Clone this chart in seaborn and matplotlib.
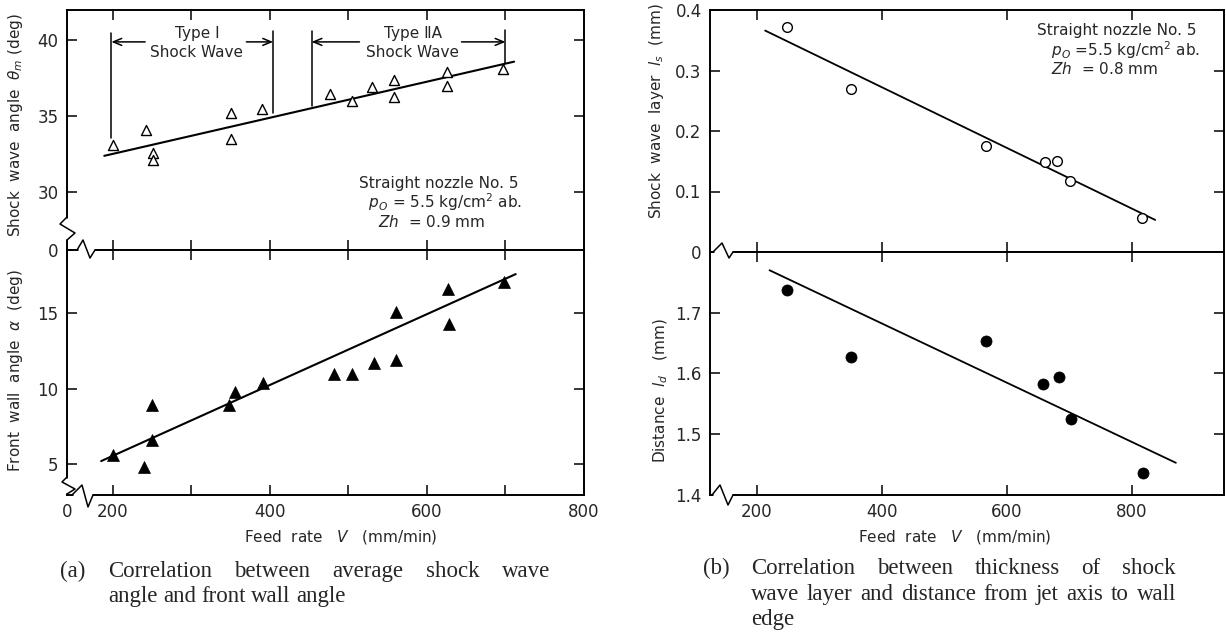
import matplotlib
matplotlib.use('Agg')
import matplotlib.pyplot as plt
import seaborn as sns

# Data
# (a) upper panel: average shock wave angle (open triangles)
theta_v = [200, 242, 251, 251, 350, 350, 390, 476, 505, 530, 558, 558, 625, 625, 697]
theta_deg = [33.1, 34.1, 32.6, 32.1, 35.2, 33.5, 35.5, 36.5, 36.0, 36.9, 37.4, 36.3, 37.9, 37.0, 38.1]
theta_fit_v = [189, 711]
theta_fit = [32.4, 38.6]

# (a) lower panel: front wall angle (filled triangles)
alpha_v = [200, 240, 250, 250, 348, 356, 391, 481, 505, 532, 560, 560, 627, 628, 698]
alpha_deg = [5.6, 4.8, 8.9, 6.6, 8.9, 9.8, 10.4, 11.0, 11.0, 11.7, 15.1, 11.9, 16.6, 14.3, 17.1]
alpha_fit_v = [185, 713]
alpha_fit = [5.2, 17.6]

# (b) upper panel: shock wave layer thickness (open circles)
ls_v = [248, 350, 566, 660, 680, 701, 816]
ls_mm = [0.372, 0.269, 0.175, 0.149, 0.150, 0.117, 0.057]
ls_fit_v = [213, 837]
ls_fit = [0.366, 0.053]

# (b) lower panel: distance jet axis to wall edge (filled circles)
ld_v = [248, 351, 566, 658, 683, 703, 817]
ld_mm = [1.737, 1.627, 1.654, 1.583, 1.594, 1.525, 1.437]
ld_fit_v = [220, 870]
ld_fit = [1.770, 1.453]

# Shock wave type ranges (feed rate)
type1_bounds = [198, 404]
type2_bounds = [453, 700]

sns.set_style("ticks")
plt.rcParams['font.family'] = ['DejaVu Sans']
plt.rcParams['mathtext.fontset'] = 'dejavusans'

W, H = 1226, 632
fig = plt.figure(figsize=(W / 100, H / 100), dpi=100)


def box(l, t, r, b):
    return [l / W, 1 - b / H, (r - l) / W, (b - t) / H]


ax1 = fig.add_axes(box(67, 10, 584, 250))
ax2 = fig.add_axes(box(67, 250, 584, 495))
ax3 = fig.add_axes(box(710, 10, 1224, 252))
ax4 = fig.add_axes(box(710, 252, 1224, 495))


def style(ax):
    for s in ax.spines.values():
        s.set_visible(True)
        s.set_linewidth(1.4)
        s.set_color('black')
    ax.tick_params(which='both', direction='in', length=7, width=1.1,
                   top=True, right=True, labelsize=12, color='black', pad=6)


for ax in (ax1, ax2, ax3, ax4):
    style(ax)

# ---- (a) upper
sns.scatterplot(x=theta_v, y=theta_deg, ax=ax1, marker='^', s=52,
                facecolor='white', edgecolor='black', linewidth=1.0, zorder=3)
sns.lineplot(x=theta_fit_v, y=theta_fit, ax=ax1, color='black', lw=1.5)
ax1.set_xlim(141.5, 800)
ax1.set_ylim(26.2, 42)
ax1.set_xticks(range(200, 800, 100))
ax1.tick_params(labelbottom=False)
ax1.set_yticks([26.2, 30, 35, 40])
ax1.set_yticklabels(['0', '30', '35', '40'])
ax1.set_ylabel(r"Shock  wave  angle  $\theta_m$ (deg)", fontsize=11)
ax1.yaxis.set_label_coords(-0.082, 0.52)

# shock type brackets
arrow = dict(arrowstyle='->,head_length=0.6,head_width=0.25', lw=1.1,
             color='black', shrinkA=0, shrinkB=0)
ax1.plot([type1_bounds[0]] * 2, [33.6, 40.5], color='black', lw=1.1)
ax1.plot([type1_bounds[1]] * 2, [35.2, 40.6], color='black', lw=1.1)
ax1.plot([type2_bounds[0]] * 2, [35.7, 40.6], color='black', lw=1.1)
ax1.plot([type2_bounds[1]] * 2, [38.5, 40.7], color='black', lw=1.1)
ax1.annotate('', xy=(type1_bounds[0], 39.9), xytext=(241, 39.9), arrowprops=arrow)
ax1.annotate('', xy=(type1_bounds[1], 39.9), xytext=(370, 39.9), arrowprops=arrow)
ax1.annotate('', xy=(type2_bounds[0], 39.9), xytext=(514, 39.9), arrowprops=arrow)
ax1.annotate('', xy=(type2_bounds[1], 39.9), xytext=(644, 39.9), arrowprops=arrow)
ax1.text(307, 40.45, "Type Ⅰ", ha='center', va='center', fontsize=11)
ax1.text(307, 39.2, "Shock Wave", ha='center', va='center', fontsize=11)
ax1.text(582, 40.45, "Type ⅡA", ha='center', va='center', fontsize=11)
ax1.text(582, 39.2, "Shock Wave", ha='center', va='center', fontsize=11)

ax1.text(514, 31.1,
         "Straight nozzle No. 5\n" + r"  $p_O$ = 5.5 kg/cm$^2$ ab." + "\n" + r"    $Zh$  = 0.9 mm",
         fontsize=11, va='top', ha='left', linespacing=1.05)

# ---- (a) lower
sns.scatterplot(x=alpha_v, y=alpha_deg, ax=ax2, marker='^', s=74,
                color='black', edgecolor='black', linewidth=0.5, zorder=3)
sns.lineplot(x=alpha_fit_v, y=alpha_fit, ax=ax2, color='black', lw=1.5)
ax2.set_xlim(141.5, 800)
ax2.set_ylim(2.95, 19.2)
ax2.set_xticks([141.5, 200, 400, 600, 800])
ax2.set_xticklabels(['0', '200', '400', '600', '800'])
ax2.set_xticks([300, 500, 700], minor=True)
ax2.set_yticks([5, 10, 15])
ax2.set_ylabel(r"Front  wall  angle  $\alpha$  (deg)", fontsize=11)
ax2.yaxis.set_label_coords(-0.082, 0.506)
ax2.set_xlabel(r"Feed  rate   $V$   (mm/min)", fontsize=11)
ax2.xaxis.set_label_coords(0.53, -0.135)

# ---- (b) upper
sns.scatterplot(x=ls_v, y=ls_mm, ax=ax3, marker='o', s=49,
                facecolor='white', edgecolor='black', linewidth=1.0, zorder=3)
sns.lineplot(x=ls_fit_v, y=ls_fit, ax=ax3, color='black', lw=1.3)
ax3.set_xlim(124.8, 947)
ax3.set_ylim(0, 0.4)
ax3.set_xticks([200, 400, 600, 800])
ax3.tick_params(labelbottom=False)
ax3.set_yticks([0, 0.1, 0.2, 0.3, 0.4])
ax3.set_yticklabels(['0', '0.1', '0.2', '0.3', '0.4'])
ax3.set_ylabel(r"Shock  wave  layer  $l_s$  (mm)", fontsize=11)
ax3.yaxis.set_label_coords(-0.086, 0.58)
ax3.text(648, 0.378,
         "Straight nozzle No. 5\n" + r"   $p_O$ =5.5 kg/cm$^2$ ab." + "\n" + r"   $Zh$  = 0.8 mm",
         fontsize=11, va='top', ha='left', linespacing=1.05)

# ---- (b) lower
sns.scatterplot(x=ld_v, y=ld_mm, ax=ax4, marker='o', s=64,
                color='black', edgecolor='black', linewidth=0.5, zorder=3)
sns.lineplot(x=ld_fit_v, y=ld_fit, ax=ax4, color='black', lw=1.3)
ax4.set_xlim(124.8, 947)
ax4.set_ylim(1.4, 1.8)
ax4.set_xticks([200, 400, 600, 800])
ax4.set_yticks([1.4, 1.5, 1.6, 1.7])
ax4.set_yticklabels(['1.4', '1.5', '1.6', '1.7'])
ax4.set_ylabel(r"Distance  $l_d$   (mm)", fontsize=11)
ax4.yaxis.set_label_coords(-0.078, 0.43)
ax4.set_xlabel(r"Feed  rate   $V$   (mm/min)", fontsize=11)
ax4.xaxis.set_label_coords(0.477, -0.135)


# broken-axis zigzags (pixel offsets from an axes corner)
def zig(ax, corner, pts, erase):
    bb = ax.get_position()
    wpx, hpx = bb.width * W, bb.height * H
    cx, cy = corner
    tx = lambda p: (cx + p[0] / wpx, cy + p[1] / hpx)
    e = [tx(p) for p in erase]
    ax.plot([p[0] for p in e], [p[1] for p in e], transform=ax.transAxes,
            color='white', lw=3.5, clip_on=False, zorder=10, solid_capstyle='butt')
    z = [tx(p) for p in pts]
    ax.plot([p[0] for p in z], [p[1] for p in z], transform=ax.transAxes,
            color='black', lw=1.1, clip_on=False, zorder=11)


zig(ax1, (0, 0), [(0, 33), (-7, 26), (8, 17), (0, 10)], [(0, 11), (0, 32)])
zig(ax2, (0, 1), [(10, 0), (16, 10), (23, -8), (28, 0)], [(11, 0), (27, 0)])
zig(ax2, (0, 0), [(0, 18), (-5, 13), (8, 6), (0, 1)], [(0, 2), (0, 17)])
zig(ax2, (0, 0), [(5, 0), (15, 10), (21, -12), (26, 0)], [(6, 0), (25, 0)])
zig(ax4, (0, 1), [(3, 0), (12, 9), (19, -6), (23, 0)], [(4, 0), (22, 0)])
zig(ax4, (0, 0), [(2, 0), (10, 10), (18, -10), (23, 0)], [(3, 0), (22, 0)])

# captions (justified serif text)
renderer = fig.canvas.get_renderer()


def caption_line(words, x0, x1, y, justify=True):
    items = [fig.text(0, 1 - y / H, w, fontsize=16.5, family='Liberation Serif',
                      va='baseline') for w in words]
    widths = [t.get_window_extent(renderer).width for t in items]
    if justify and len(words) > 1:
        gap = (x1 - x0 - sum(widths)) / (len(words) - 1)
    else:
        gap = 5.5
    x = x0
    for t, w in zip(items, widths):
        t.set_x(x / W)
        x += w + gap


fig.text(60 / W, 1 - 577 / H, "(a)", fontsize=16.5, family='Liberation Serif', va='baseline')
caption_line("Correlation between average shock wave".split(), 108, 550, 577)
caption_line("angle and front wall angle".split(), 108, 0, 602, justify=False)

fig.text(703 / W, 1 - 574 / H, "(b)", fontsize=16.5, family='Liberation Serif', va='baseline')
caption_line("Correlation between thickness of shock".split(), 751, 1176, 574)
caption_line("wave layer and distance from jet axis to wall".split(), 751, 1176, 600)
caption_line(["edge"], 751, 0, 625, justify=False)

fig.savefig('out.png', dpi=100)
